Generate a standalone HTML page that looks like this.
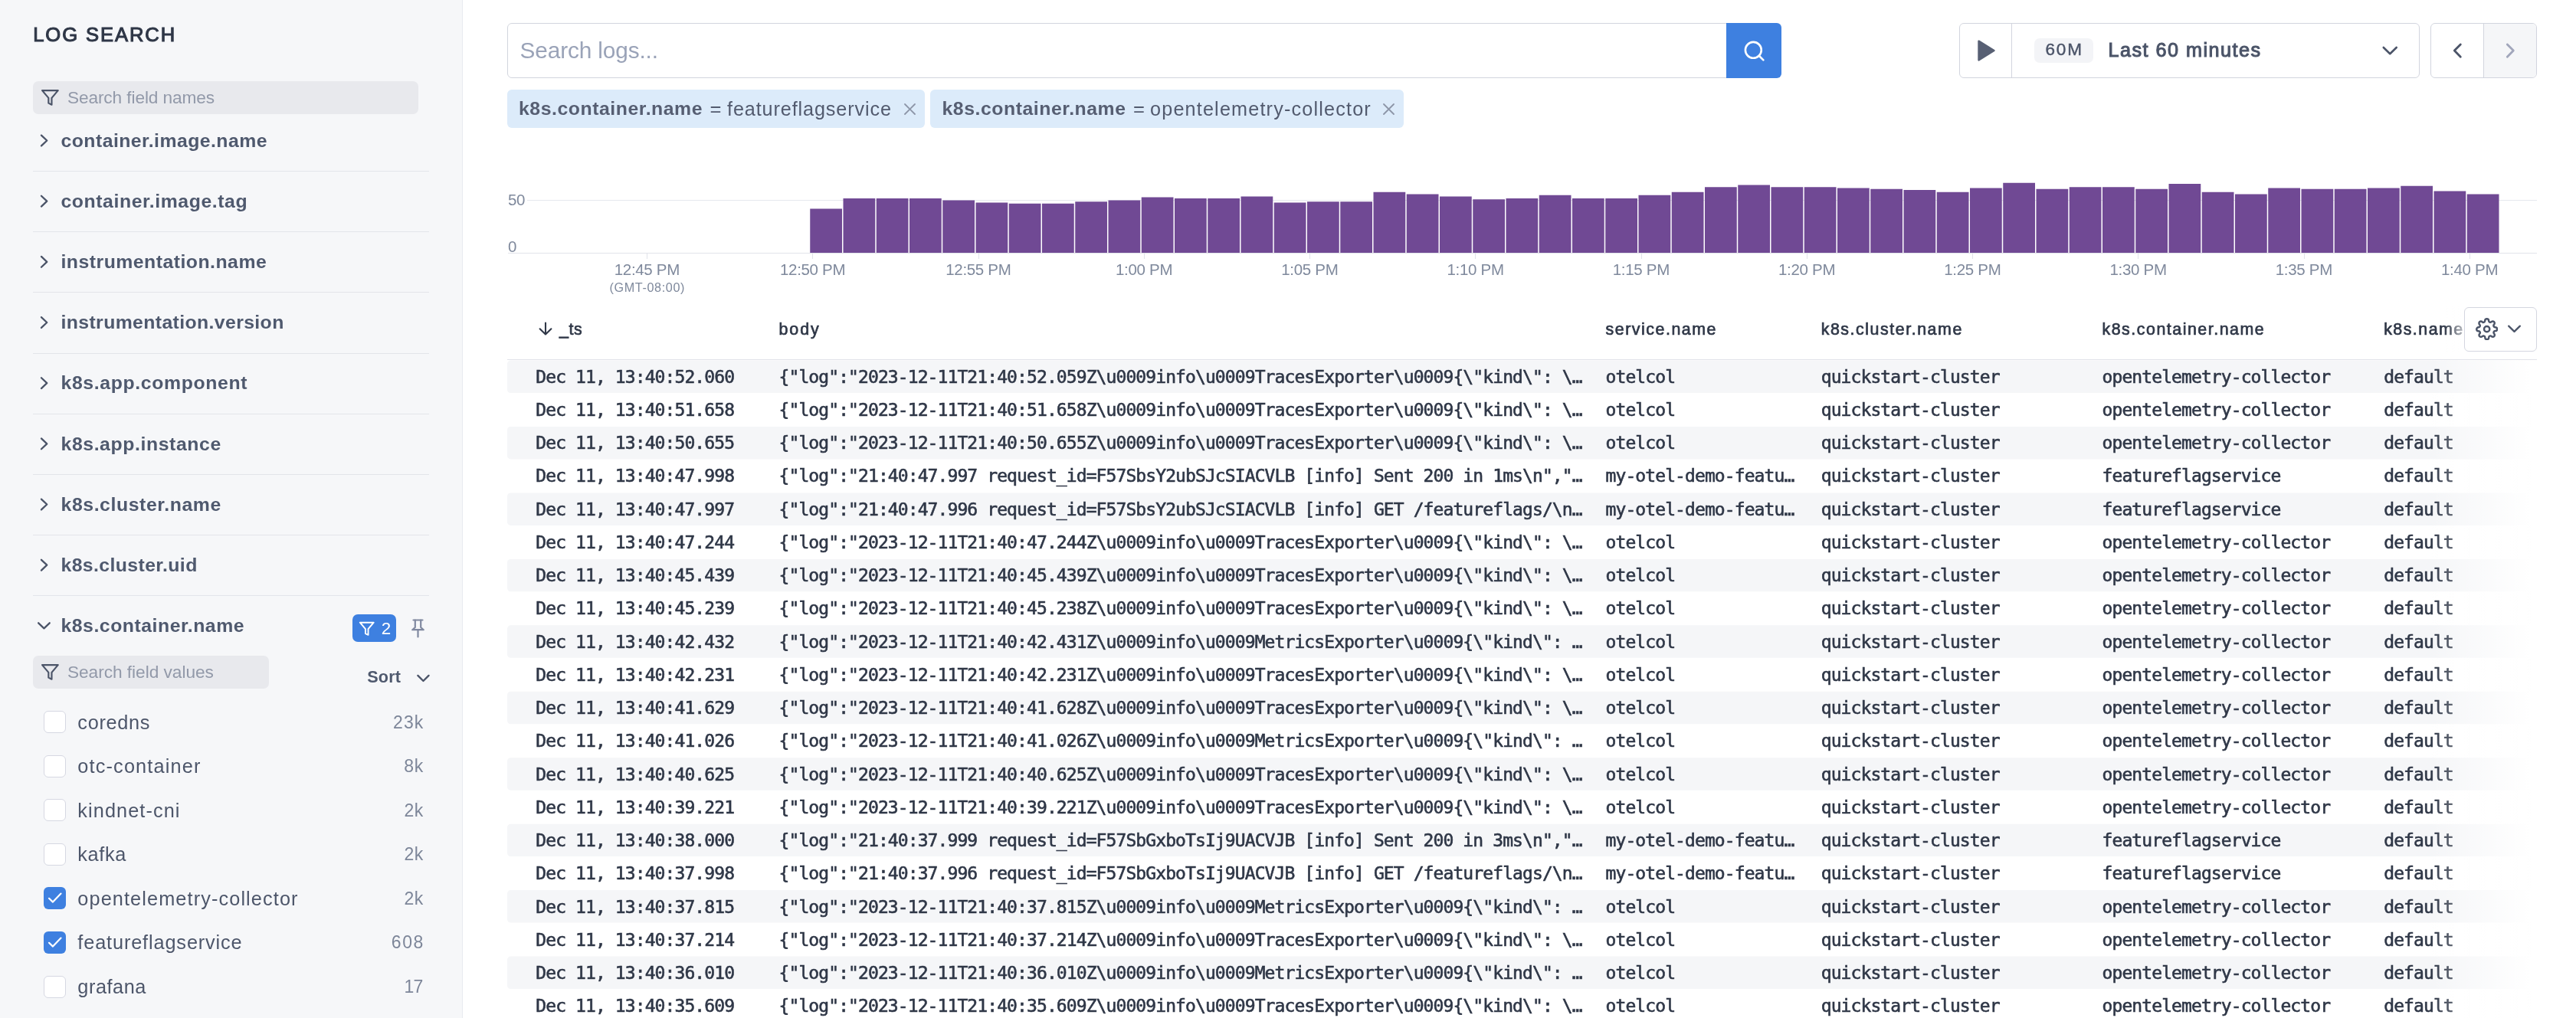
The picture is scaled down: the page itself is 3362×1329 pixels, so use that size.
<!DOCTYPE html>
<html lang="en"><head><meta charset="utf-8"><meta name="viewport" content="width=3362"><title>Log Search</title><style>html,body{margin:0;padding:0}body{width:3362px;height:1329px;position:relative;overflow:hidden;background:#fff;font-family:'Liberation Sans', sans-serif;-webkit-font-smoothing:antialiased}
#app{position:absolute;left:0;top:0;width:3362px;height:1329px;will-change:transform;transform:translateZ(0)}
.t{position:absolute;white-space:pre;display:block}.b{position:absolute;display:block}</style></head><body><div id="app">
<aside id="sidebar">
<div class="b" style="left:0px;top:0px;width:603px;height:1329px;background:#f6f7f9;"></div>
<div class="b" style="left:603px;top:0px;width:1px;height:1329px;background:#e8eaf0;"></div>
<span class="t" style="left:43.20px;top:28.92px;font:normal 25.6px 'Liberation Sans', sans-serif;line-height:33px;color:#2f3747;letter-spacing:1.908px;-webkit-text-stroke:1.08px #2f3747;">LOG SEARCH</span>
<div class="b" style="left:43px;top:106px;width:503px;height:43px;background:#e8e9ed;border-radius:7px;"></div>
<svg class="b" style="left:53.15px;top:115.1px;" width="24.8" height="24.8" viewBox="0 0 24 24" fill="none"><polygon points="22 3 2 3 10 12.46 10 19 14 21 14 12.46 22 3" stroke="#4b5468" stroke-width="2.1" stroke-linejoin="round" stroke-linecap="round"/></svg>
<span class="t" style="left:87.90px;top:111.93px;font:normal 22.7px 'Liberation Sans', sans-serif;line-height:30px;color:#9299a9;letter-spacing:-0.113px;">Search field names</span>
<span class="t" style="left:79.50px;top:167.70px;font:bold 24.8px 'Liberation Sans', sans-serif;line-height:32px;color:#4f596e;letter-spacing:0.449px;">container.image.name</span>
<svg class="b" style="left:49px;top:172px;" width="17" height="23" viewBox="0 0 17 23" fill="none"><polyline points="4.95,4.60 12.25,11.50 4.95,18.40" stroke="#4b5468" stroke-width="2.3" stroke-linecap="round" stroke-linejoin="round"/></svg>
<div class="b" style="left:43px;top:223px;width:517px;height:1px;background:#e3e5ea;"></div>
<span class="t" style="left:79.50px;top:246.87px;font:bold 24.8px 'Liberation Sans', sans-serif;line-height:32px;color:#4f596e;letter-spacing:0.567px;">container.image.tag</span>
<svg class="b" style="left:49px;top:251px;" width="17" height="23" viewBox="0 0 17 23" fill="none"><polyline points="4.95,4.77 12.25,11.67 4.95,18.57" stroke="#4b5468" stroke-width="2.3" stroke-linecap="round" stroke-linejoin="round"/></svg>
<div class="b" style="left:43px;top:302px;width:517px;height:1px;background:#e3e5ea;"></div>
<span class="t" style="left:79.50px;top:326.04px;font:bold 24.8px 'Liberation Sans', sans-serif;line-height:32px;color:#4f596e;letter-spacing:0.483px;">instrumentation.name</span>
<svg class="b" style="left:49px;top:330px;" width="17" height="23" viewBox="0 0 17 23" fill="none"><polyline points="4.95,4.94 12.25,11.84 4.95,18.74" stroke="#4b5468" stroke-width="2.3" stroke-linecap="round" stroke-linejoin="round"/></svg>
<div class="b" style="left:43px;top:381px;width:517px;height:1px;background:#e3e5ea;"></div>
<span class="t" style="left:79.50px;top:405.21px;font:bold 24.8px 'Liberation Sans', sans-serif;line-height:32px;color:#4f596e;letter-spacing:0.379px;">instrumentation.version</span>
<svg class="b" style="left:49px;top:410px;" width="17" height="22" viewBox="0 0 17 22" fill="none"><polyline points="4.95,4.11 12.25,11.01 4.95,17.91" stroke="#4b5468" stroke-width="2.3" stroke-linecap="round" stroke-linejoin="round"/></svg>
<div class="b" style="left:43px;top:461px;width:517px;height:1px;background:#e3e5ea;"></div>
<span class="t" style="left:79.50px;top:484.38px;font:bold 24.8px 'Liberation Sans', sans-serif;line-height:32px;color:#4f596e;letter-spacing:0.640px;">k8s.app.component</span>
<svg class="b" style="left:49px;top:489px;" width="17" height="23" viewBox="0 0 17 23" fill="none"><polyline points="4.95,4.28 12.25,11.18 4.95,18.08" stroke="#4b5468" stroke-width="2.3" stroke-linecap="round" stroke-linejoin="round"/></svg>
<div class="b" style="left:43px;top:540px;width:517px;height:1px;background:#e3e5ea;"></div>
<span class="t" style="left:79.50px;top:563.55px;font:bold 24.8px 'Liberation Sans', sans-serif;line-height:32px;color:#4f596e;letter-spacing:0.590px;">k8s.app.instance</span>
<svg class="b" style="left:49px;top:568px;" width="17" height="23" viewBox="0 0 17 23" fill="none"><polyline points="4.95,4.45 12.25,11.35 4.95,18.25" stroke="#4b5468" stroke-width="2.3" stroke-linecap="round" stroke-linejoin="round"/></svg>
<div class="b" style="left:43px;top:619px;width:517px;height:1px;background:#e3e5ea;"></div>
<span class="t" style="left:79.50px;top:642.72px;font:bold 24.8px 'Liberation Sans', sans-serif;line-height:32px;color:#4f596e;letter-spacing:0.587px;">k8s.cluster.name</span>
<svg class="b" style="left:49px;top:647px;" width="17" height="23" viewBox="0 0 17 23" fill="none"><polyline points="4.95,4.62 12.25,11.52 4.95,18.42" stroke="#4b5468" stroke-width="2.3" stroke-linecap="round" stroke-linejoin="round"/></svg>
<div class="b" style="left:43px;top:698px;width:517px;height:1px;background:#e3e5ea;"></div>
<span class="t" style="left:79.50px;top:721.89px;font:bold 24.8px 'Liberation Sans', sans-serif;line-height:32px;color:#4f596e;letter-spacing:0.393px;">k8s.cluster.uid</span>
<svg class="b" style="left:49px;top:726px;" width="17" height="23" viewBox="0 0 17 23" fill="none"><polyline points="4.95,4.79 12.25,11.69 4.95,18.59" stroke="#4b5468" stroke-width="2.3" stroke-linecap="round" stroke-linejoin="round"/></svg>
<div class="b" style="left:43px;top:777px;width:517px;height:1px;background:#e3e5ea;"></div>
<span class="t" style="left:79.50px;top:801.06px;font:bold 24.8px 'Liberation Sans', sans-serif;line-height:32px;color:#4f596e;letter-spacing:0.519px;">k8s.container.name</span>
<svg class="b" style="left:46px;top:809px;" width="23" height="16" viewBox="0 0 23 16" fill="none"><polyline points="4.15,4.31 11.45,11.41 18.75,4.31" stroke="#4b5468" stroke-width="2.3" stroke-linecap="round" stroke-linejoin="round"/></svg>
<div class="b" style="left:460px;top:802px;width:57px;height:36px;background:#3e80e0;border-radius:7px;"></div>
<svg class="b" style="left:468.0px;top:809.95px;" width="21.5" height="21.5" viewBox="0 0 24 24" fill="none"><polygon points="22 3 2 3 10 12.46 10 19 14 21 14 12.46 22 3" stroke="#fff" stroke-width="2.2" stroke-linejoin="round" stroke-linecap="round"/></svg>
<span class="t" style="left:497.70px;top:805.73px;font:normal 22.4px 'Liberation Sans', sans-serif;line-height:29px;color:#fff;">2</span>
<svg class="b" style="left:535px;top:806px;" width="21" height="28" viewBox="0 0 21 28" fill="none"><g stroke="#8089a0" stroke-width="2.2" stroke-linecap="round" stroke-linejoin="round"><path d="M4.5 3.5h12"/><path d="M6.8 3.5v9.5l-3.6 3.2h14.6l-3.6-3.2V3.5"/><path d="M10.5 16.5v9"/></g></svg>
<div class="b" style="left:43px;top:856px;width:308px;height:42.5px;background:#e8e9ed;border-radius:7px;"></div>
<svg class="b" style="left:53.15px;top:864.9px;" width="24.8" height="24.8" viewBox="0 0 24 24" fill="none"><polygon points="22 3 2 3 10 12.46 10 19 14 21 14 12.46 22 3" stroke="#4b5468" stroke-width="2.1" stroke-linejoin="round" stroke-linecap="round"/></svg>
<span class="t" style="left:87.90px;top:861.73px;font:normal 22.7px 'Liberation Sans', sans-serif;line-height:30px;color:#9299a9;letter-spacing:-0.039px;">Search field values</span>
<span class="t" style="left:479.20px;top:870.31px;font:bold 21.6px 'Liberation Sans', sans-serif;line-height:28px;color:#4f596e;letter-spacing:0.204px;">Sort</span>
<svg class="b" style="left:541px;top:877px;" width="23" height="17" viewBox="0 0 23 17" fill="none"><polyline points="4.35,4.85 11.45,12.05 18.55,4.85" stroke="#4b5468" stroke-width="2.3" stroke-linecap="round" stroke-linejoin="round"/></svg>
<div class="b" style="left:57px;top:928px;width:29px;height:29px;background:#fff;border-radius:6px;box-sizing:border-box;border:1px solid #d6d8e2;"></div>
<span class="t" style="left:101.30px;top:926.63px;font:normal 25.3px 'Liberation Sans', sans-serif;line-height:33px;color:#4d566a;letter-spacing:0.700px;">coredns</span>
<span class="t" style="left:513.00px;top:927.53px;font:normal 23px 'Liberation Sans', sans-serif;line-height:30px;color:#7d8699;letter-spacing:1.103px;">23k</span>
<div class="b" style="left:57px;top:986px;width:29px;height:29px;background:#fff;border-radius:6px;box-sizing:border-box;border:1px solid #d6d8e2;"></div>
<span class="t" style="left:101.30px;top:984.18px;font:normal 25.3px 'Liberation Sans', sans-serif;line-height:33px;color:#4d566a;letter-spacing:1.154px;">otc-container</span>
<span class="t" style="left:527.20px;top:985.08px;font:normal 23px 'Liberation Sans', sans-serif;line-height:30px;color:#7d8699;letter-spacing:0.803px;">8k</span>
<div class="b" style="left:57px;top:1043px;width:29px;height:29px;background:#fff;border-radius:6px;box-sizing:border-box;border:1px solid #d6d8e2;"></div>
<span class="t" style="left:101.30px;top:1041.73px;font:normal 25.3px 'Liberation Sans', sans-serif;line-height:33px;color:#4d566a;letter-spacing:1.086px;">kindnet-cni</span>
<span class="t" style="left:527.60px;top:1042.63px;font:normal 23px 'Liberation Sans', sans-serif;line-height:30px;color:#7d8699;letter-spacing:0.403px;">2k</span>
<div class="b" style="left:57px;top:1101px;width:29px;height:29px;background:#fff;border-radius:6px;box-sizing:border-box;border:1px solid #d6d8e2;"></div>
<span class="t" style="left:101.30px;top:1099.28px;font:normal 25.3px 'Liberation Sans', sans-serif;line-height:33px;color:#4d566a;letter-spacing:0.658px;">kafka</span>
<span class="t" style="left:527.60px;top:1100.18px;font:normal 23px 'Liberation Sans', sans-serif;line-height:30px;color:#7d8699;letter-spacing:0.403px;">2k</span>
<div class="b" style="left:56.7px;top:1158.3px;width:29px;height:29px;background:#3e80e0;border-radius:6px;"></div>
<svg class="b" style="left:56.7px;top:1158.3px;" width="29" height="29" viewBox="0 0 29 29" fill="none"><polyline points="7,14.8 12,19.6 22.5,8.6" stroke="#fff" stroke-width="2.2" stroke-linecap="round" stroke-linejoin="round"/></svg>
<span class="t" style="left:101.30px;top:1156.83px;font:normal 25.3px 'Liberation Sans', sans-serif;line-height:33px;color:#4d566a;letter-spacing:1.103px;">opentelemetry-collector</span>
<span class="t" style="left:527.60px;top:1157.73px;font:normal 23px 'Liberation Sans', sans-serif;line-height:30px;color:#7d8699;letter-spacing:0.403px;">2k</span>
<div class="b" style="left:56.7px;top:1215.8px;width:29px;height:29px;background:#3e80e0;border-radius:6px;"></div>
<svg class="b" style="left:56.7px;top:1215.85px;" width="29" height="29" viewBox="0 0 29 29" fill="none"><polyline points="7,14.8 12,19.6 22.5,8.6" stroke="#fff" stroke-width="2.2" stroke-linecap="round" stroke-linejoin="round"/></svg>
<span class="t" style="left:101.30px;top:1214.38px;font:normal 25.3px 'Liberation Sans', sans-serif;line-height:33px;color:#4d566a;letter-spacing:0.866px;">featureflagservice</span>
<span class="t" style="left:510.80px;top:1215.28px;font:normal 23px 'Liberation Sans', sans-serif;line-height:30px;color:#7d8699;letter-spacing:1.562px;">608</span>
<div class="b" style="left:57px;top:1274px;width:29px;height:29px;background:#fff;border-radius:6px;box-sizing:border-box;border:1px solid #d6d8e2;"></div>
<span class="t" style="left:101.30px;top:1271.93px;font:normal 25.3px 'Liberation Sans', sans-serif;line-height:33px;color:#4d566a;letter-spacing:0.548px;">grafana</span>
<span class="t" style="left:527.61px;top:1272.83px;font:normal 23px 'Liberation Sans', sans-serif;line-height:30px;color:#7d8699;letter-spacing:-0.900px;">17</span>
</aside>
<main id="main">
<header id="toolbar">
<div class="b" style="left:662px;top:30px;width:1593px;height:72px;background:#fff;border:1px solid #d2d5de;border-radius:6px 0 0 6px;box-sizing:border-box;"></div>
<span class="t" style="left:678.50px;top:46.17px;font:normal 29.8px 'Liberation Sans', sans-serif;line-height:39px;color:#9aa3b8;letter-spacing:-0.130px;">Search logs...</span>
<div class="b" style="left:2253px;top:30px;width:72px;height:72px;background:#3e80e0;border-radius:0 6px 6px 0;"></div>
<svg class="b" style="left:2273.75px;top:50.65px;" width="31.3" height="31.3" viewBox="0 0 24 24" fill="none"><circle cx="11" cy="11" r="8" stroke="#fff" stroke-width="2"/><line x1="21" y1="21" x2="16.65" y2="16.65" stroke="#fff" stroke-width="2" stroke-linecap="round"/></svg>
<div class="b" style="left:662px;top:117px;width:545px;height:50px;background:#dcebfa;border-radius:6px;"></div>
<span class="t" style="left:677.00px;top:126.30px;font:bold 24.8px 'Liberation Sans', sans-serif;line-height:32px;color:#565e72;letter-spacing:0.549px;">k8s.container.name</span>
<span class="t" style="left:926.50px;top:125.62px;font:normal 25.6px 'Liberation Sans', sans-serif;line-height:33px;color:#525a6e;">=</span>
<span class="t" style="left:949.00px;top:125.76px;font:normal 25.2px 'Liberation Sans', sans-serif;line-height:33px;color:#525a6e;letter-spacing:0.893px;">featureflagservice</span>
<svg class="b" style="left:1179.8px;top:134.5px;" width="15" height="15" viewBox="0 0 15 15" fill="none"><path d="M1 1L14 14M14 1L1 14" stroke="#8d96a8" stroke-width="1.8" stroke-linecap="round"/></svg>
<div class="b" style="left:1214px;top:117px;width:618px;height:50px;background:#dcebfa;border-radius:6px;"></div>
<span class="t" style="left:1229.50px;top:126.30px;font:bold 24.8px 'Liberation Sans', sans-serif;line-height:32px;color:#565e72;letter-spacing:0.549px;">k8s.container.name</span>
<span class="t" style="left:1479.00px;top:125.62px;font:normal 25.6px 'Liberation Sans', sans-serif;line-height:33px;color:#525a6e;">=</span>
<span class="t" style="left:1501.00px;top:125.76px;font:normal 25.2px 'Liberation Sans', sans-serif;line-height:33px;color:#525a6e;letter-spacing:1.180px;">opentelemetry-collector</span>
<svg class="b" style="left:1805.3px;top:134.5px;" width="15" height="15" viewBox="0 0 15 15" fill="none"><path d="M1 1L14 14M14 1L1 14" stroke="#8d96a8" stroke-width="1.8" stroke-linecap="round"/></svg>
<div class="b" style="left:2557px;top:30px;width:601px;height:72px;background:#fff;border:1px solid #d2d5de;border-radius:6px;box-sizing:border-box;"></div>
<div class="b" style="left:2625px;top:31px;width:1px;height:70px;background:#d2d5de;"></div>
<svg class="b" style="left:2579px;top:50px;" width="28" height="32" viewBox="0 0 28 32" fill="none"><path d="M3.5 3.6L23.5 16L3.5 28.4Z" fill="#586074" stroke="#586074" stroke-width="2.4" stroke-linejoin="round"/></svg>
<div class="b" style="left:2655px;top:50px;width:77px;height:32px;background:#f3f4f7;border-radius:7px;"></div>
<span class="t" style="left:2669.50px;top:50.20px;font:normal 22.5px 'Liberation Sans', sans-serif;line-height:29px;color:#4b5468;letter-spacing:1.859px;-webkit-text-stroke:0.45px #4b5468;">60M</span>
<span class="t" style="left:2751.50px;top:49.36px;font:normal 25.2px 'Liberation Sans', sans-serif;line-height:33px;color:#4b5468;letter-spacing:1.477px;-webkit-text-stroke:1.06px #4b5468;">Last 60 minutes</span>
<svg class="b" style="left:3106px;top:57px;" width="26" height="18" viewBox="0 0 26 18" fill="none"><polyline points="4.80,5.00 13.25,13.20 21.70,5.00" stroke="#4b5468" stroke-width="2.6" stroke-linecap="round" stroke-linejoin="round"/></svg>
<div class="b" style="left:3172px;top:30px;width:139px;height:72px;background:#fff;border:1px solid #d2d5de;border-radius:6px;box-sizing:border-box;overflow:hidden;"><div style="position:absolute;left:68px;top:0;width:70px;height:70px;background:#f5f6f8;border-left:1px solid #d2d5de"></div></div>
<svg class="b" style="left:3199px;top:53px;" width="17" height="26" viewBox="0 0 17 26" fill="none"><polyline points="12.30,5.00 4.30,13.10 12.30,21.20" stroke="#4b5468" stroke-width="2.8" stroke-linecap="round" stroke-linejoin="round"/></svg>
<svg class="b" style="left:3268px;top:53px;" width="17" height="26" viewBox="0 0 17 26" fill="none"><polyline points="4.30,5.00 12.30,13.10 4.30,21.20" stroke="#a1a6bb" stroke-width="2.8" stroke-linecap="round" stroke-linejoin="round"/></svg>
</header>
<section id="histogram">
<div class="b" style="left:688px;top:261px;width:2623px;height:1px;background:#e6e8ee;"></div>
<div class="b" style="left:663px;top:330px;width:2648px;height:1px;background:#e1e3ea;"></div>
<span class="t" style="left:663.00px;top:247.39px;font:normal 20.5px 'Liberation Sans', sans-serif;line-height:27px;color:#7f899c;letter-spacing:-0.312px;">50</span>
<span class="t" style="left:663.00px;top:308.39px;font:normal 20.5px 'Liberation Sans', sans-serif;line-height:27px;color:#7f899c;">0</span>
<svg class="b" style="left:0px;top:0px;" width="3362" height="340" viewBox="0 0 3362 340" fill="none"><g fill="#704994"><rect x="1057.25" y="272.50" width="41.75" height="57.50"/><rect x="1100.50" y="259.00" width="41.75" height="71.00"/><rect x="1143.75" y="259.00" width="41.75" height="71.00"/><rect x="1187.00" y="259.00" width="41.75" height="71.00"/><rect x="1230.25" y="261.50" width="41.75" height="68.50"/><rect x="1273.50" y="264.50" width="41.75" height="65.50"/><rect x="1316.75" y="265.75" width="41.75" height="64.25"/><rect x="1360.00" y="265.75" width="41.75" height="64.25"/><rect x="1403.25" y="263.25" width="41.75" height="66.75"/><rect x="1446.50" y="261.50" width="41.75" height="68.50"/><rect x="1489.75" y="257.50" width="41.75" height="72.50"/><rect x="1533.00" y="259.00" width="41.75" height="71.00"/><rect x="1576.25" y="259.00" width="41.75" height="71.00"/><rect x="1619.50" y="256.50" width="41.75" height="73.50"/><rect x="1662.75" y="264.50" width="41.75" height="65.50"/><rect x="1706.00" y="263.25" width="41.75" height="66.75"/><rect x="1749.25" y="263.25" width="41.75" height="66.75"/><rect x="1792.50" y="250.75" width="41.75" height="79.25"/><rect x="1835.75" y="253.50" width="41.75" height="76.50"/><rect x="1879.00" y="256.50" width="41.75" height="73.50"/><rect x="1922.25" y="260.25" width="41.75" height="69.75"/><rect x="1965.50" y="259.00" width="41.75" height="71.00"/><rect x="2008.75" y="254.75" width="41.75" height="75.25"/><rect x="2052.00" y="259.00" width="41.75" height="71.00"/><rect x="2095.25" y="259.00" width="41.75" height="71.00"/><rect x="2138.50" y="254.75" width="41.75" height="75.25"/><rect x="2181.75" y="250.75" width="41.75" height="79.25"/><rect x="2225.00" y="244.25" width="41.75" height="85.75"/><rect x="2268.25" y="241.50" width="41.75" height="88.50"/><rect x="2311.50" y="244.25" width="41.75" height="85.75"/><rect x="2354.75" y="244.25" width="41.75" height="85.75"/><rect x="2398.00" y="245.50" width="41.75" height="84.50"/><rect x="2441.25" y="246.75" width="41.75" height="83.25"/><rect x="2484.50" y="248.00" width="41.75" height="82.00"/><rect x="2527.75" y="250.75" width="41.75" height="79.25"/><rect x="2571.00" y="245.50" width="41.75" height="84.50"/><rect x="2614.25" y="238.75" width="41.75" height="91.25"/><rect x="2657.50" y="246.75" width="41.75" height="83.25"/><rect x="2700.75" y="244.25" width="41.75" height="85.75"/><rect x="2744.00" y="244.25" width="41.75" height="85.75"/><rect x="2787.25" y="246.75" width="41.75" height="83.25"/><rect x="2830.50" y="240.00" width="41.75" height="90.00"/><rect x="2873.75" y="250.75" width="41.75" height="79.25"/><rect x="2917.00" y="253.50" width="41.75" height="76.50"/><rect x="2960.25" y="245.50" width="41.75" height="84.50"/><rect x="3003.50" y="246.75" width="41.75" height="83.25"/><rect x="3046.75" y="246.75" width="41.75" height="83.25"/><rect x="3090.00" y="245.50" width="41.75" height="84.50"/><rect x="3133.25" y="242.75" width="41.75" height="87.25"/><rect x="3176.50" y="249.50" width="41.75" height="80.50"/><rect x="3219.75" y="253.50" width="41.75" height="76.50"/></g></svg>
<div class="b" style="left:844px;top:331px;width:1px;height:7px;background:#e1e3ea;"></div>
<span class="t" style="left:801.75px;top:338.39px;font:normal 20.5px 'Liberation Sans', sans-serif;line-height:27px;color:#7f899c;letter-spacing:-0.321px;">12:45 PM</span>
<div class="b" style="left:1060px;top:331px;width:1px;height:7px;background:#e1e3ea;"></div>
<span class="t" style="left:1018.00px;top:338.39px;font:normal 20.5px 'Liberation Sans', sans-serif;line-height:27px;color:#7f899c;letter-spacing:-0.321px;">12:50 PM</span>
<div class="b" style="left:1277px;top:331px;width:1px;height:7px;background:#e1e3ea;"></div>
<span class="t" style="left:1234.25px;top:338.39px;font:normal 20.5px 'Liberation Sans', sans-serif;line-height:27px;color:#7f899c;letter-spacing:-0.321px;">12:55 PM</span>
<div class="b" style="left:1493px;top:331px;width:1px;height:7px;background:#e1e3ea;"></div>
<span class="t" style="left:1456.00px;top:338.39px;font:normal 20.5px 'Liberation Sans', sans-serif;line-height:27px;color:#7f899c;letter-spacing:-0.310px;">1:00 PM</span>
<div class="b" style="left:1709px;top:331px;width:1px;height:7px;background:#e1e3ea;"></div>
<span class="t" style="left:1672.25px;top:338.39px;font:normal 20.5px 'Liberation Sans', sans-serif;line-height:27px;color:#7f899c;letter-spacing:-0.310px;">1:05 PM</span>
<div class="b" style="left:1925px;top:331px;width:1px;height:7px;background:#e1e3ea;"></div>
<span class="t" style="left:1888.50px;top:338.39px;font:normal 20.5px 'Liberation Sans', sans-serif;line-height:27px;color:#7f899c;letter-spacing:-0.310px;">1:10 PM</span>
<div class="b" style="left:2142px;top:331px;width:1px;height:7px;background:#e1e3ea;"></div>
<span class="t" style="left:2104.75px;top:338.39px;font:normal 20.5px 'Liberation Sans', sans-serif;line-height:27px;color:#7f899c;letter-spacing:-0.310px;">1:15 PM</span>
<div class="b" style="left:2358px;top:331px;width:1px;height:7px;background:#e1e3ea;"></div>
<span class="t" style="left:2321.00px;top:338.39px;font:normal 20.5px 'Liberation Sans', sans-serif;line-height:27px;color:#7f899c;letter-spacing:-0.310px;">1:20 PM</span>
<div class="b" style="left:2574px;top:331px;width:1px;height:7px;background:#e1e3ea;"></div>
<span class="t" style="left:2537.25px;top:338.39px;font:normal 20.5px 'Liberation Sans', sans-serif;line-height:27px;color:#7f899c;letter-spacing:-0.310px;">1:25 PM</span>
<div class="b" style="left:2790px;top:331px;width:1px;height:7px;background:#e1e3ea;"></div>
<span class="t" style="left:2753.50px;top:338.39px;font:normal 20.5px 'Liberation Sans', sans-serif;line-height:27px;color:#7f899c;letter-spacing:-0.310px;">1:30 PM</span>
<div class="b" style="left:3007px;top:331px;width:1px;height:7px;background:#e1e3ea;"></div>
<span class="t" style="left:2969.75px;top:338.39px;font:normal 20.5px 'Liberation Sans', sans-serif;line-height:27px;color:#7f899c;letter-spacing:-0.310px;">1:35 PM</span>
<div class="b" style="left:3223px;top:331px;width:1px;height:7px;background:#e1e3ea;"></div>
<span class="t" style="left:3186.00px;top:338.39px;font:normal 20.5px 'Liberation Sans', sans-serif;line-height:27px;color:#7f899c;letter-spacing:-0.310px;">1:40 PM</span>
<span class="t" style="left:795.50px;top:365.18px;font:normal 16.2px 'Liberation Sans', sans-serif;line-height:21px;color:#7f899c;letter-spacing:0.625px;">(GMT-08:00)</span>
</section>
<section id="log-table">
<svg class="b" style="left:700.5px;top:418.5px;" width="22" height="20" viewBox="0 0 22 20" fill="none"><path d="M11 2.5v15M3.6 10.3L11 17.6l7.4-7.3" stroke="#2f3747" stroke-width="2.1" stroke-linecap="round" stroke-linejoin="round"/></svg>
<span class="t" style="left:730.00px;top:415.88px;font:normal 21.4px 'Liberation Sans', sans-serif;line-height:28px;color:#2f3747;letter-spacing:0.527px;-webkit-text-stroke:0.7px #2f3747;">_ts</span>
<span class="t" style="left:1016.60px;top:415.88px;font:normal 21.4px 'Liberation Sans', sans-serif;line-height:28px;color:#2f3747;letter-spacing:1.870px;-webkit-text-stroke:0.7px #2f3747;">body</span>
<span class="t" style="left:2095.50px;top:415.88px;font:normal 21.4px 'Liberation Sans', sans-serif;line-height:28px;color:#2f3747;letter-spacing:1.526px;-webkit-text-stroke:0.7px #2f3747;">service.name</span>
<span class="t" style="left:2376.70px;top:415.88px;font:normal 21.4px 'Liberation Sans', sans-serif;line-height:28px;color:#2f3747;letter-spacing:1.539px;-webkit-text-stroke:0.7px #2f3747;">k8s.cluster.name</span>
<span class="t" style="left:2743.50px;top:415.88px;font:normal 21.4px 'Liberation Sans', sans-serif;line-height:28px;color:#2f3747;letter-spacing:1.512px;-webkit-text-stroke:0.7px #2f3747;">k8s.container.name</span>
<span class="t" style="left:3111.20px;top:415.88px;font:normal 21.4px 'Liberation Sans', sans-serif;line-height:28px;color:#2f3747;letter-spacing:1.464px;-webkit-text-stroke:0.7px #2f3747;">k8s.namespace.name</span>
<div class="b" style="left:3190px;top:400px;width:27px;height:60px;background:linear-gradient(90deg,rgba(255,255,255,0),rgba(255,255,255,.7));"></div>
<div class="b" style="left:3216px;top:400px;width:146px;height:62px;background:#fff;"></div>
<div class="b" style="left:3216px;top:401px;width:95px;height:58px;background:#fff;border:1px solid #d4d6e0;border-radius:6px;box-sizing:border-box;"></div>
<svg class="b" style="left:3230.9px;top:414.8px;" width="29.3" height="29.3" viewBox="0 0 24 24" fill="none"><g stroke="#4b5468" stroke-width="2" stroke-linecap="round" stroke-linejoin="round"><circle cx="12" cy="12" r="3"/><path d="M19.4 15a1.65 1.65 0 0 0 .33 1.82l.06.06a2 2 0 0 1 0 2.83 2 2 0 0 1-2.83 0l-.06-.06a1.65 1.65 0 0 0-1.82-.33 1.65 1.65 0 0 0-1 1.51V21a2 2 0 0 1-2 2 2 2 0 0 1-2-2v-.09A1.65 1.65 0 0 0 9 19.4a1.65 1.65 0 0 0-1.82.33l-.06.06a2 2 0 0 1-2.83 0 2 2 0 0 1 0-2.83l.06-.06a1.65 1.65 0 0 0 .33-1.82 1.65 1.65 0 0 0-1.51-1H3a2 2 0 0 1-2-2 2 2 0 0 1 2-2h.09A1.65 1.65 0 0 0 4.6 9a1.65 1.65 0 0 0-.33-1.82l-.06-.06a2 2 0 0 1 0-2.83 2 2 0 0 1 2.83 0l.06.06a1.65 1.65 0 0 0 1.82.33H9a1.65 1.65 0 0 0 1-1.51V3a2 2 0 0 1 2-2 2 2 0 0 1 2 2v.09a1.65 1.65 0 0 0 1 1.51 1.65 1.65 0 0 0 1.82-.33l.06-.06a2 2 0 0 1 2.83 0 2 2 0 0 1 0 2.83l-.06.06a1.65 1.65 0 0 0-.33 1.82V9a1.65 1.65 0 0 0 1.51 1H21a2 2 0 0 1 2 2 2 2 0 0 1-2 2h-.09a1.65 1.65 0 0 0-1.51 1z"/></g></svg>
<svg class="b" style="left:3270px;top:421px;" width="23" height="16" viewBox="0 0 23 16" fill="none"><polyline points="4.15,4.65 11.50,11.85 18.85,4.65" stroke="#4b5468" stroke-width="2.3" stroke-linecap="round" stroke-linejoin="round"/></svg>
<div class="b" style="left:662px;top:469px;width:2649px;height:1px;background:#e1e3ea;"></div>
<svg class="b" style="left:0px;top:0px;" width="3362" height="1329" viewBox="0 0 3362 1329" fill="none"><g fill="#f5f6f8"><rect x="662" y="470.60" width="2720" height="42.4" rx="4.5"/><rect x="662" y="557.04" width="2720" height="42.4" rx="4.5"/><rect x="662" y="643.48" width="2720" height="42.4" rx="4.5"/><rect x="662" y="729.92" width="2720" height="42.4" rx="4.5"/><rect x="662" y="816.36" width="2720" height="42.4" rx="4.5"/><rect x="662" y="902.80" width="2720" height="42.4" rx="4.5"/><rect x="662" y="989.24" width="2720" height="42.4" rx="4.5"/><rect x="662" y="1075.68" width="2720" height="42.4" rx="4.5"/><rect x="662" y="1162.12" width="2720" height="42.4" rx="4.5"/><rect x="662" y="1248.56" width="2720" height="42.4" rx="4.5"/></g></svg>
<span class="t" style="left:699.30px;top:476.74px;font:normal 23px 'DejaVu Sans Mono', 'Liberation Mono', monospace;line-height:30px;color:#2f3747;letter-spacing:-0.907px;-webkit-text-stroke:0.6px #2f3747;">Dec 11, 13:40:52.060</span>
<span class="t" style="left:1016.50px;top:476.74px;font:normal 23px 'DejaVu Sans Mono', 'Liberation Mono', monospace;line-height:30px;color:#2f3747;letter-spacing:-0.907px;-webkit-text-stroke:0.6px #2f3747;">{"log":"2023-12-11T21:40:52.059Z\u0009info\u0009TracesExporter\u0009{\"kind\": \…</span>
<span class="t" style="left:2095.50px;top:476.74px;font:normal 23px 'DejaVu Sans Mono', 'Liberation Mono', monospace;line-height:30px;color:#2f3747;letter-spacing:-0.907px;-webkit-text-stroke:0.6px #2f3747;">otelcol</span>
<span class="t" style="left:2376.70px;top:476.74px;font:normal 23px 'DejaVu Sans Mono', 'Liberation Mono', monospace;line-height:30px;color:#2f3747;letter-spacing:-0.907px;-webkit-text-stroke:0.6px #2f3747;">quickstart-cluster</span>
<span class="t" style="left:2743.50px;top:476.74px;font:normal 23px 'DejaVu Sans Mono', 'Liberation Mono', monospace;line-height:30px;color:#2f3747;letter-spacing:-0.907px;-webkit-text-stroke:0.6px #2f3747;">opentelemetry-collector</span>
<span class="t" style="left:3111.20px;top:476.74px;font:normal 23px 'DejaVu Sans Mono', 'Liberation Mono', monospace;line-height:30px;color:#2f3747;letter-spacing:-0.907px;-webkit-text-stroke:0.6px #2f3747;">default</span>
<span class="t" style="left:699.30px;top:519.98px;font:normal 23px 'DejaVu Sans Mono', 'Liberation Mono', monospace;line-height:30px;color:#2f3747;letter-spacing:-0.907px;-webkit-text-stroke:0.6px #2f3747;">Dec 11, 13:40:51.658</span>
<span class="t" style="left:1016.50px;top:519.98px;font:normal 23px 'DejaVu Sans Mono', 'Liberation Mono', monospace;line-height:30px;color:#2f3747;letter-spacing:-0.907px;-webkit-text-stroke:0.6px #2f3747;">{"log":"2023-12-11T21:40:51.658Z\u0009info\u0009TracesExporter\u0009{\"kind\": \…</span>
<span class="t" style="left:2095.50px;top:519.98px;font:normal 23px 'DejaVu Sans Mono', 'Liberation Mono', monospace;line-height:30px;color:#2f3747;letter-spacing:-0.907px;-webkit-text-stroke:0.6px #2f3747;">otelcol</span>
<span class="t" style="left:2376.70px;top:519.98px;font:normal 23px 'DejaVu Sans Mono', 'Liberation Mono', monospace;line-height:30px;color:#2f3747;letter-spacing:-0.907px;-webkit-text-stroke:0.6px #2f3747;">quickstart-cluster</span>
<span class="t" style="left:2743.50px;top:519.98px;font:normal 23px 'DejaVu Sans Mono', 'Liberation Mono', monospace;line-height:30px;color:#2f3747;letter-spacing:-0.907px;-webkit-text-stroke:0.6px #2f3747;">opentelemetry-collector</span>
<span class="t" style="left:3111.20px;top:519.98px;font:normal 23px 'DejaVu Sans Mono', 'Liberation Mono', monospace;line-height:30px;color:#2f3747;letter-spacing:-0.907px;-webkit-text-stroke:0.6px #2f3747;">default</span>
<span class="t" style="left:699.30px;top:563.22px;font:normal 23px 'DejaVu Sans Mono', 'Liberation Mono', monospace;line-height:30px;color:#2f3747;letter-spacing:-0.907px;-webkit-text-stroke:0.6px #2f3747;">Dec 11, 13:40:50.655</span>
<span class="t" style="left:1016.50px;top:563.22px;font:normal 23px 'DejaVu Sans Mono', 'Liberation Mono', monospace;line-height:30px;color:#2f3747;letter-spacing:-0.907px;-webkit-text-stroke:0.6px #2f3747;">{"log":"2023-12-11T21:40:50.655Z\u0009info\u0009TracesExporter\u0009{\"kind\": \…</span>
<span class="t" style="left:2095.50px;top:563.22px;font:normal 23px 'DejaVu Sans Mono', 'Liberation Mono', monospace;line-height:30px;color:#2f3747;letter-spacing:-0.907px;-webkit-text-stroke:0.6px #2f3747;">otelcol</span>
<span class="t" style="left:2376.70px;top:563.22px;font:normal 23px 'DejaVu Sans Mono', 'Liberation Mono', monospace;line-height:30px;color:#2f3747;letter-spacing:-0.907px;-webkit-text-stroke:0.6px #2f3747;">quickstart-cluster</span>
<span class="t" style="left:2743.50px;top:563.22px;font:normal 23px 'DejaVu Sans Mono', 'Liberation Mono', monospace;line-height:30px;color:#2f3747;letter-spacing:-0.907px;-webkit-text-stroke:0.6px #2f3747;">opentelemetry-collector</span>
<span class="t" style="left:3111.20px;top:563.22px;font:normal 23px 'DejaVu Sans Mono', 'Liberation Mono', monospace;line-height:30px;color:#2f3747;letter-spacing:-0.907px;-webkit-text-stroke:0.6px #2f3747;">default</span>
<span class="t" style="left:699.30px;top:606.46px;font:normal 23px 'DejaVu Sans Mono', 'Liberation Mono', monospace;line-height:30px;color:#2f3747;letter-spacing:-0.907px;-webkit-text-stroke:0.6px #2f3747;">Dec 11, 13:40:47.998</span>
<span class="t" style="left:1016.50px;top:606.46px;font:normal 23px 'DejaVu Sans Mono', 'Liberation Mono', monospace;line-height:30px;color:#2f3747;letter-spacing:-0.907px;-webkit-text-stroke:0.6px #2f3747;">{"log":"21:40:47.997 request_id=F57SbsY2ubSJcSIACVLB [info] Sent 200 in 1ms\n","…</span>
<span class="t" style="left:2095.50px;top:606.46px;font:normal 23px 'DejaVu Sans Mono', 'Liberation Mono', monospace;line-height:30px;color:#2f3747;letter-spacing:-0.907px;-webkit-text-stroke:0.6px #2f3747;">my-otel-demo-featu…</span>
<span class="t" style="left:2376.70px;top:606.46px;font:normal 23px 'DejaVu Sans Mono', 'Liberation Mono', monospace;line-height:30px;color:#2f3747;letter-spacing:-0.907px;-webkit-text-stroke:0.6px #2f3747;">quickstart-cluster</span>
<span class="t" style="left:2743.50px;top:606.46px;font:normal 23px 'DejaVu Sans Mono', 'Liberation Mono', monospace;line-height:30px;color:#2f3747;letter-spacing:-0.907px;-webkit-text-stroke:0.6px #2f3747;">featureflagservice</span>
<span class="t" style="left:3111.20px;top:606.46px;font:normal 23px 'DejaVu Sans Mono', 'Liberation Mono', monospace;line-height:30px;color:#2f3747;letter-spacing:-0.907px;-webkit-text-stroke:0.6px #2f3747;">default</span>
<span class="t" style="left:699.30px;top:649.70px;font:normal 23px 'DejaVu Sans Mono', 'Liberation Mono', monospace;line-height:30px;color:#2f3747;letter-spacing:-0.907px;-webkit-text-stroke:0.6px #2f3747;">Dec 11, 13:40:47.997</span>
<span class="t" style="left:1016.50px;top:649.70px;font:normal 23px 'DejaVu Sans Mono', 'Liberation Mono', monospace;line-height:30px;color:#2f3747;letter-spacing:-0.907px;-webkit-text-stroke:0.6px #2f3747;">{"log":"21:40:47.996 request_id=F57SbsY2ubSJcSIACVLB [info] GET /featureflags/\n…</span>
<span class="t" style="left:2095.50px;top:649.70px;font:normal 23px 'DejaVu Sans Mono', 'Liberation Mono', monospace;line-height:30px;color:#2f3747;letter-spacing:-0.907px;-webkit-text-stroke:0.6px #2f3747;">my-otel-demo-featu…</span>
<span class="t" style="left:2376.70px;top:649.70px;font:normal 23px 'DejaVu Sans Mono', 'Liberation Mono', monospace;line-height:30px;color:#2f3747;letter-spacing:-0.907px;-webkit-text-stroke:0.6px #2f3747;">quickstart-cluster</span>
<span class="t" style="left:2743.50px;top:649.70px;font:normal 23px 'DejaVu Sans Mono', 'Liberation Mono', monospace;line-height:30px;color:#2f3747;letter-spacing:-0.907px;-webkit-text-stroke:0.6px #2f3747;">featureflagservice</span>
<span class="t" style="left:3111.20px;top:649.70px;font:normal 23px 'DejaVu Sans Mono', 'Liberation Mono', monospace;line-height:30px;color:#2f3747;letter-spacing:-0.907px;-webkit-text-stroke:0.6px #2f3747;">default</span>
<span class="t" style="left:699.30px;top:692.94px;font:normal 23px 'DejaVu Sans Mono', 'Liberation Mono', monospace;line-height:30px;color:#2f3747;letter-spacing:-0.907px;-webkit-text-stroke:0.6px #2f3747;">Dec 11, 13:40:47.244</span>
<span class="t" style="left:1016.50px;top:692.94px;font:normal 23px 'DejaVu Sans Mono', 'Liberation Mono', monospace;line-height:30px;color:#2f3747;letter-spacing:-0.907px;-webkit-text-stroke:0.6px #2f3747;">{"log":"2023-12-11T21:40:47.244Z\u0009info\u0009TracesExporter\u0009{\"kind\": \…</span>
<span class="t" style="left:2095.50px;top:692.94px;font:normal 23px 'DejaVu Sans Mono', 'Liberation Mono', monospace;line-height:30px;color:#2f3747;letter-spacing:-0.907px;-webkit-text-stroke:0.6px #2f3747;">otelcol</span>
<span class="t" style="left:2376.70px;top:692.94px;font:normal 23px 'DejaVu Sans Mono', 'Liberation Mono', monospace;line-height:30px;color:#2f3747;letter-spacing:-0.907px;-webkit-text-stroke:0.6px #2f3747;">quickstart-cluster</span>
<span class="t" style="left:2743.50px;top:692.94px;font:normal 23px 'DejaVu Sans Mono', 'Liberation Mono', monospace;line-height:30px;color:#2f3747;letter-spacing:-0.907px;-webkit-text-stroke:0.6px #2f3747;">opentelemetry-collector</span>
<span class="t" style="left:3111.20px;top:692.94px;font:normal 23px 'DejaVu Sans Mono', 'Liberation Mono', monospace;line-height:30px;color:#2f3747;letter-spacing:-0.907px;-webkit-text-stroke:0.6px #2f3747;">default</span>
<span class="t" style="left:699.30px;top:736.18px;font:normal 23px 'DejaVu Sans Mono', 'Liberation Mono', monospace;line-height:30px;color:#2f3747;letter-spacing:-0.907px;-webkit-text-stroke:0.6px #2f3747;">Dec 11, 13:40:45.439</span>
<span class="t" style="left:1016.50px;top:736.18px;font:normal 23px 'DejaVu Sans Mono', 'Liberation Mono', monospace;line-height:30px;color:#2f3747;letter-spacing:-0.907px;-webkit-text-stroke:0.6px #2f3747;">{"log":"2023-12-11T21:40:45.439Z\u0009info\u0009TracesExporter\u0009{\"kind\": \…</span>
<span class="t" style="left:2095.50px;top:736.18px;font:normal 23px 'DejaVu Sans Mono', 'Liberation Mono', monospace;line-height:30px;color:#2f3747;letter-spacing:-0.907px;-webkit-text-stroke:0.6px #2f3747;">otelcol</span>
<span class="t" style="left:2376.70px;top:736.18px;font:normal 23px 'DejaVu Sans Mono', 'Liberation Mono', monospace;line-height:30px;color:#2f3747;letter-spacing:-0.907px;-webkit-text-stroke:0.6px #2f3747;">quickstart-cluster</span>
<span class="t" style="left:2743.50px;top:736.18px;font:normal 23px 'DejaVu Sans Mono', 'Liberation Mono', monospace;line-height:30px;color:#2f3747;letter-spacing:-0.907px;-webkit-text-stroke:0.6px #2f3747;">opentelemetry-collector</span>
<span class="t" style="left:3111.20px;top:736.18px;font:normal 23px 'DejaVu Sans Mono', 'Liberation Mono', monospace;line-height:30px;color:#2f3747;letter-spacing:-0.907px;-webkit-text-stroke:0.6px #2f3747;">default</span>
<span class="t" style="left:699.30px;top:779.42px;font:normal 23px 'DejaVu Sans Mono', 'Liberation Mono', monospace;line-height:30px;color:#2f3747;letter-spacing:-0.907px;-webkit-text-stroke:0.6px #2f3747;">Dec 11, 13:40:45.239</span>
<span class="t" style="left:1016.50px;top:779.42px;font:normal 23px 'DejaVu Sans Mono', 'Liberation Mono', monospace;line-height:30px;color:#2f3747;letter-spacing:-0.907px;-webkit-text-stroke:0.6px #2f3747;">{"log":"2023-12-11T21:40:45.238Z\u0009info\u0009TracesExporter\u0009{\"kind\": \…</span>
<span class="t" style="left:2095.50px;top:779.42px;font:normal 23px 'DejaVu Sans Mono', 'Liberation Mono', monospace;line-height:30px;color:#2f3747;letter-spacing:-0.907px;-webkit-text-stroke:0.6px #2f3747;">otelcol</span>
<span class="t" style="left:2376.70px;top:779.42px;font:normal 23px 'DejaVu Sans Mono', 'Liberation Mono', monospace;line-height:30px;color:#2f3747;letter-spacing:-0.907px;-webkit-text-stroke:0.6px #2f3747;">quickstart-cluster</span>
<span class="t" style="left:2743.50px;top:779.42px;font:normal 23px 'DejaVu Sans Mono', 'Liberation Mono', monospace;line-height:30px;color:#2f3747;letter-spacing:-0.907px;-webkit-text-stroke:0.6px #2f3747;">opentelemetry-collector</span>
<span class="t" style="left:3111.20px;top:779.42px;font:normal 23px 'DejaVu Sans Mono', 'Liberation Mono', monospace;line-height:30px;color:#2f3747;letter-spacing:-0.907px;-webkit-text-stroke:0.6px #2f3747;">default</span>
<span class="t" style="left:699.30px;top:822.66px;font:normal 23px 'DejaVu Sans Mono', 'Liberation Mono', monospace;line-height:30px;color:#2f3747;letter-spacing:-0.907px;-webkit-text-stroke:0.6px #2f3747;">Dec 11, 13:40:42.432</span>
<span class="t" style="left:1016.50px;top:822.66px;font:normal 23px 'DejaVu Sans Mono', 'Liberation Mono', monospace;line-height:30px;color:#2f3747;letter-spacing:-0.907px;-webkit-text-stroke:0.6px #2f3747;">{"log":"2023-12-11T21:40:42.431Z\u0009info\u0009MetricsExporter\u0009{\"kind\": …</span>
<span class="t" style="left:2095.50px;top:822.66px;font:normal 23px 'DejaVu Sans Mono', 'Liberation Mono', monospace;line-height:30px;color:#2f3747;letter-spacing:-0.907px;-webkit-text-stroke:0.6px #2f3747;">otelcol</span>
<span class="t" style="left:2376.70px;top:822.66px;font:normal 23px 'DejaVu Sans Mono', 'Liberation Mono', monospace;line-height:30px;color:#2f3747;letter-spacing:-0.907px;-webkit-text-stroke:0.6px #2f3747;">quickstart-cluster</span>
<span class="t" style="left:2743.50px;top:822.66px;font:normal 23px 'DejaVu Sans Mono', 'Liberation Mono', monospace;line-height:30px;color:#2f3747;letter-spacing:-0.907px;-webkit-text-stroke:0.6px #2f3747;">opentelemetry-collector</span>
<span class="t" style="left:3111.20px;top:822.66px;font:normal 23px 'DejaVu Sans Mono', 'Liberation Mono', monospace;line-height:30px;color:#2f3747;letter-spacing:-0.907px;-webkit-text-stroke:0.6px #2f3747;">default</span>
<span class="t" style="left:699.30px;top:865.90px;font:normal 23px 'DejaVu Sans Mono', 'Liberation Mono', monospace;line-height:30px;color:#2f3747;letter-spacing:-0.907px;-webkit-text-stroke:0.6px #2f3747;">Dec 11, 13:40:42.231</span>
<span class="t" style="left:1016.50px;top:865.90px;font:normal 23px 'DejaVu Sans Mono', 'Liberation Mono', monospace;line-height:30px;color:#2f3747;letter-spacing:-0.907px;-webkit-text-stroke:0.6px #2f3747;">{"log":"2023-12-11T21:40:42.231Z\u0009info\u0009TracesExporter\u0009{\"kind\": \…</span>
<span class="t" style="left:2095.50px;top:865.90px;font:normal 23px 'DejaVu Sans Mono', 'Liberation Mono', monospace;line-height:30px;color:#2f3747;letter-spacing:-0.907px;-webkit-text-stroke:0.6px #2f3747;">otelcol</span>
<span class="t" style="left:2376.70px;top:865.90px;font:normal 23px 'DejaVu Sans Mono', 'Liberation Mono', monospace;line-height:30px;color:#2f3747;letter-spacing:-0.907px;-webkit-text-stroke:0.6px #2f3747;">quickstart-cluster</span>
<span class="t" style="left:2743.50px;top:865.90px;font:normal 23px 'DejaVu Sans Mono', 'Liberation Mono', monospace;line-height:30px;color:#2f3747;letter-spacing:-0.907px;-webkit-text-stroke:0.6px #2f3747;">opentelemetry-collector</span>
<span class="t" style="left:3111.20px;top:865.90px;font:normal 23px 'DejaVu Sans Mono', 'Liberation Mono', monospace;line-height:30px;color:#2f3747;letter-spacing:-0.907px;-webkit-text-stroke:0.6px #2f3747;">default</span>
<span class="t" style="left:699.30px;top:909.14px;font:normal 23px 'DejaVu Sans Mono', 'Liberation Mono', monospace;line-height:30px;color:#2f3747;letter-spacing:-0.907px;-webkit-text-stroke:0.6px #2f3747;">Dec 11, 13:40:41.629</span>
<span class="t" style="left:1016.50px;top:909.14px;font:normal 23px 'DejaVu Sans Mono', 'Liberation Mono', monospace;line-height:30px;color:#2f3747;letter-spacing:-0.907px;-webkit-text-stroke:0.6px #2f3747;">{"log":"2023-12-11T21:40:41.628Z\u0009info\u0009TracesExporter\u0009{\"kind\": \…</span>
<span class="t" style="left:2095.50px;top:909.14px;font:normal 23px 'DejaVu Sans Mono', 'Liberation Mono', monospace;line-height:30px;color:#2f3747;letter-spacing:-0.907px;-webkit-text-stroke:0.6px #2f3747;">otelcol</span>
<span class="t" style="left:2376.70px;top:909.14px;font:normal 23px 'DejaVu Sans Mono', 'Liberation Mono', monospace;line-height:30px;color:#2f3747;letter-spacing:-0.907px;-webkit-text-stroke:0.6px #2f3747;">quickstart-cluster</span>
<span class="t" style="left:2743.50px;top:909.14px;font:normal 23px 'DejaVu Sans Mono', 'Liberation Mono', monospace;line-height:30px;color:#2f3747;letter-spacing:-0.907px;-webkit-text-stroke:0.6px #2f3747;">opentelemetry-collector</span>
<span class="t" style="left:3111.20px;top:909.14px;font:normal 23px 'DejaVu Sans Mono', 'Liberation Mono', monospace;line-height:30px;color:#2f3747;letter-spacing:-0.907px;-webkit-text-stroke:0.6px #2f3747;">default</span>
<span class="t" style="left:699.30px;top:952.38px;font:normal 23px 'DejaVu Sans Mono', 'Liberation Mono', monospace;line-height:30px;color:#2f3747;letter-spacing:-0.907px;-webkit-text-stroke:0.6px #2f3747;">Dec 11, 13:40:41.026</span>
<span class="t" style="left:1016.50px;top:952.38px;font:normal 23px 'DejaVu Sans Mono', 'Liberation Mono', monospace;line-height:30px;color:#2f3747;letter-spacing:-0.907px;-webkit-text-stroke:0.6px #2f3747;">{"log":"2023-12-11T21:40:41.026Z\u0009info\u0009MetricsExporter\u0009{\"kind\": …</span>
<span class="t" style="left:2095.50px;top:952.38px;font:normal 23px 'DejaVu Sans Mono', 'Liberation Mono', monospace;line-height:30px;color:#2f3747;letter-spacing:-0.907px;-webkit-text-stroke:0.6px #2f3747;">otelcol</span>
<span class="t" style="left:2376.70px;top:952.38px;font:normal 23px 'DejaVu Sans Mono', 'Liberation Mono', monospace;line-height:30px;color:#2f3747;letter-spacing:-0.907px;-webkit-text-stroke:0.6px #2f3747;">quickstart-cluster</span>
<span class="t" style="left:2743.50px;top:952.38px;font:normal 23px 'DejaVu Sans Mono', 'Liberation Mono', monospace;line-height:30px;color:#2f3747;letter-spacing:-0.907px;-webkit-text-stroke:0.6px #2f3747;">opentelemetry-collector</span>
<span class="t" style="left:3111.20px;top:952.38px;font:normal 23px 'DejaVu Sans Mono', 'Liberation Mono', monospace;line-height:30px;color:#2f3747;letter-spacing:-0.907px;-webkit-text-stroke:0.6px #2f3747;">default</span>
<span class="t" style="left:699.30px;top:995.62px;font:normal 23px 'DejaVu Sans Mono', 'Liberation Mono', monospace;line-height:30px;color:#2f3747;letter-spacing:-0.907px;-webkit-text-stroke:0.6px #2f3747;">Dec 11, 13:40:40.625</span>
<span class="t" style="left:1016.50px;top:995.62px;font:normal 23px 'DejaVu Sans Mono', 'Liberation Mono', monospace;line-height:30px;color:#2f3747;letter-spacing:-0.907px;-webkit-text-stroke:0.6px #2f3747;">{"log":"2023-12-11T21:40:40.625Z\u0009info\u0009TracesExporter\u0009{\"kind\": \…</span>
<span class="t" style="left:2095.50px;top:995.62px;font:normal 23px 'DejaVu Sans Mono', 'Liberation Mono', monospace;line-height:30px;color:#2f3747;letter-spacing:-0.907px;-webkit-text-stroke:0.6px #2f3747;">otelcol</span>
<span class="t" style="left:2376.70px;top:995.62px;font:normal 23px 'DejaVu Sans Mono', 'Liberation Mono', monospace;line-height:30px;color:#2f3747;letter-spacing:-0.907px;-webkit-text-stroke:0.6px #2f3747;">quickstart-cluster</span>
<span class="t" style="left:2743.50px;top:995.62px;font:normal 23px 'DejaVu Sans Mono', 'Liberation Mono', monospace;line-height:30px;color:#2f3747;letter-spacing:-0.907px;-webkit-text-stroke:0.6px #2f3747;">opentelemetry-collector</span>
<span class="t" style="left:3111.20px;top:995.62px;font:normal 23px 'DejaVu Sans Mono', 'Liberation Mono', monospace;line-height:30px;color:#2f3747;letter-spacing:-0.907px;-webkit-text-stroke:0.6px #2f3747;">default</span>
<span class="t" style="left:699.30px;top:1038.86px;font:normal 23px 'DejaVu Sans Mono', 'Liberation Mono', monospace;line-height:30px;color:#2f3747;letter-spacing:-0.907px;-webkit-text-stroke:0.6px #2f3747;">Dec 11, 13:40:39.221</span>
<span class="t" style="left:1016.50px;top:1038.86px;font:normal 23px 'DejaVu Sans Mono', 'Liberation Mono', monospace;line-height:30px;color:#2f3747;letter-spacing:-0.907px;-webkit-text-stroke:0.6px #2f3747;">{"log":"2023-12-11T21:40:39.221Z\u0009info\u0009TracesExporter\u0009{\"kind\": \…</span>
<span class="t" style="left:2095.50px;top:1038.86px;font:normal 23px 'DejaVu Sans Mono', 'Liberation Mono', monospace;line-height:30px;color:#2f3747;letter-spacing:-0.907px;-webkit-text-stroke:0.6px #2f3747;">otelcol</span>
<span class="t" style="left:2376.70px;top:1038.86px;font:normal 23px 'DejaVu Sans Mono', 'Liberation Mono', monospace;line-height:30px;color:#2f3747;letter-spacing:-0.907px;-webkit-text-stroke:0.6px #2f3747;">quickstart-cluster</span>
<span class="t" style="left:2743.50px;top:1038.86px;font:normal 23px 'DejaVu Sans Mono', 'Liberation Mono', monospace;line-height:30px;color:#2f3747;letter-spacing:-0.907px;-webkit-text-stroke:0.6px #2f3747;">opentelemetry-collector</span>
<span class="t" style="left:3111.20px;top:1038.86px;font:normal 23px 'DejaVu Sans Mono', 'Liberation Mono', monospace;line-height:30px;color:#2f3747;letter-spacing:-0.907px;-webkit-text-stroke:0.6px #2f3747;">default</span>
<span class="t" style="left:699.30px;top:1082.10px;font:normal 23px 'DejaVu Sans Mono', 'Liberation Mono', monospace;line-height:30px;color:#2f3747;letter-spacing:-0.907px;-webkit-text-stroke:0.6px #2f3747;">Dec 11, 13:40:38.000</span>
<span class="t" style="left:1016.50px;top:1082.10px;font:normal 23px 'DejaVu Sans Mono', 'Liberation Mono', monospace;line-height:30px;color:#2f3747;letter-spacing:-0.907px;-webkit-text-stroke:0.6px #2f3747;">{"log":"21:40:37.999 request_id=F57SbGxboTsIj9UACVJB [info] Sent 200 in 3ms\n","…</span>
<span class="t" style="left:2095.50px;top:1082.10px;font:normal 23px 'DejaVu Sans Mono', 'Liberation Mono', monospace;line-height:30px;color:#2f3747;letter-spacing:-0.907px;-webkit-text-stroke:0.6px #2f3747;">my-otel-demo-featu…</span>
<span class="t" style="left:2376.70px;top:1082.10px;font:normal 23px 'DejaVu Sans Mono', 'Liberation Mono', monospace;line-height:30px;color:#2f3747;letter-spacing:-0.907px;-webkit-text-stroke:0.6px #2f3747;">quickstart-cluster</span>
<span class="t" style="left:2743.50px;top:1082.10px;font:normal 23px 'DejaVu Sans Mono', 'Liberation Mono', monospace;line-height:30px;color:#2f3747;letter-spacing:-0.907px;-webkit-text-stroke:0.6px #2f3747;">featureflagservice</span>
<span class="t" style="left:3111.20px;top:1082.10px;font:normal 23px 'DejaVu Sans Mono', 'Liberation Mono', monospace;line-height:30px;color:#2f3747;letter-spacing:-0.907px;-webkit-text-stroke:0.6px #2f3747;">default</span>
<span class="t" style="left:699.30px;top:1125.34px;font:normal 23px 'DejaVu Sans Mono', 'Liberation Mono', monospace;line-height:30px;color:#2f3747;letter-spacing:-0.907px;-webkit-text-stroke:0.6px #2f3747;">Dec 11, 13:40:37.998</span>
<span class="t" style="left:1016.50px;top:1125.34px;font:normal 23px 'DejaVu Sans Mono', 'Liberation Mono', monospace;line-height:30px;color:#2f3747;letter-spacing:-0.907px;-webkit-text-stroke:0.6px #2f3747;">{"log":"21:40:37.996 request_id=F57SbGxboTsIj9UACVJB [info] GET /featureflags/\n…</span>
<span class="t" style="left:2095.50px;top:1125.34px;font:normal 23px 'DejaVu Sans Mono', 'Liberation Mono', monospace;line-height:30px;color:#2f3747;letter-spacing:-0.907px;-webkit-text-stroke:0.6px #2f3747;">my-otel-demo-featu…</span>
<span class="t" style="left:2376.70px;top:1125.34px;font:normal 23px 'DejaVu Sans Mono', 'Liberation Mono', monospace;line-height:30px;color:#2f3747;letter-spacing:-0.907px;-webkit-text-stroke:0.6px #2f3747;">quickstart-cluster</span>
<span class="t" style="left:2743.50px;top:1125.34px;font:normal 23px 'DejaVu Sans Mono', 'Liberation Mono', monospace;line-height:30px;color:#2f3747;letter-spacing:-0.907px;-webkit-text-stroke:0.6px #2f3747;">featureflagservice</span>
<span class="t" style="left:3111.20px;top:1125.34px;font:normal 23px 'DejaVu Sans Mono', 'Liberation Mono', monospace;line-height:30px;color:#2f3747;letter-spacing:-0.907px;-webkit-text-stroke:0.6px #2f3747;">default</span>
<span class="t" style="left:699.30px;top:1168.58px;font:normal 23px 'DejaVu Sans Mono', 'Liberation Mono', monospace;line-height:30px;color:#2f3747;letter-spacing:-0.907px;-webkit-text-stroke:0.6px #2f3747;">Dec 11, 13:40:37.815</span>
<span class="t" style="left:1016.50px;top:1168.58px;font:normal 23px 'DejaVu Sans Mono', 'Liberation Mono', monospace;line-height:30px;color:#2f3747;letter-spacing:-0.907px;-webkit-text-stroke:0.6px #2f3747;">{"log":"2023-12-11T21:40:37.815Z\u0009info\u0009MetricsExporter\u0009{\"kind\": …</span>
<span class="t" style="left:2095.50px;top:1168.58px;font:normal 23px 'DejaVu Sans Mono', 'Liberation Mono', monospace;line-height:30px;color:#2f3747;letter-spacing:-0.907px;-webkit-text-stroke:0.6px #2f3747;">otelcol</span>
<span class="t" style="left:2376.70px;top:1168.58px;font:normal 23px 'DejaVu Sans Mono', 'Liberation Mono', monospace;line-height:30px;color:#2f3747;letter-spacing:-0.907px;-webkit-text-stroke:0.6px #2f3747;">quickstart-cluster</span>
<span class="t" style="left:2743.50px;top:1168.58px;font:normal 23px 'DejaVu Sans Mono', 'Liberation Mono', monospace;line-height:30px;color:#2f3747;letter-spacing:-0.907px;-webkit-text-stroke:0.6px #2f3747;">opentelemetry-collector</span>
<span class="t" style="left:3111.20px;top:1168.58px;font:normal 23px 'DejaVu Sans Mono', 'Liberation Mono', monospace;line-height:30px;color:#2f3747;letter-spacing:-0.907px;-webkit-text-stroke:0.6px #2f3747;">default</span>
<span class="t" style="left:699.30px;top:1211.82px;font:normal 23px 'DejaVu Sans Mono', 'Liberation Mono', monospace;line-height:30px;color:#2f3747;letter-spacing:-0.907px;-webkit-text-stroke:0.6px #2f3747;">Dec 11, 13:40:37.214</span>
<span class="t" style="left:1016.50px;top:1211.82px;font:normal 23px 'DejaVu Sans Mono', 'Liberation Mono', monospace;line-height:30px;color:#2f3747;letter-spacing:-0.907px;-webkit-text-stroke:0.6px #2f3747;">{"log":"2023-12-11T21:40:37.214Z\u0009info\u0009TracesExporter\u0009{\"kind\": \…</span>
<span class="t" style="left:2095.50px;top:1211.82px;font:normal 23px 'DejaVu Sans Mono', 'Liberation Mono', monospace;line-height:30px;color:#2f3747;letter-spacing:-0.907px;-webkit-text-stroke:0.6px #2f3747;">otelcol</span>
<span class="t" style="left:2376.70px;top:1211.82px;font:normal 23px 'DejaVu Sans Mono', 'Liberation Mono', monospace;line-height:30px;color:#2f3747;letter-spacing:-0.907px;-webkit-text-stroke:0.6px #2f3747;">quickstart-cluster</span>
<span class="t" style="left:2743.50px;top:1211.82px;font:normal 23px 'DejaVu Sans Mono', 'Liberation Mono', monospace;line-height:30px;color:#2f3747;letter-spacing:-0.907px;-webkit-text-stroke:0.6px #2f3747;">opentelemetry-collector</span>
<span class="t" style="left:3111.20px;top:1211.82px;font:normal 23px 'DejaVu Sans Mono', 'Liberation Mono', monospace;line-height:30px;color:#2f3747;letter-spacing:-0.907px;-webkit-text-stroke:0.6px #2f3747;">default</span>
<span class="t" style="left:699.30px;top:1255.06px;font:normal 23px 'DejaVu Sans Mono', 'Liberation Mono', monospace;line-height:30px;color:#2f3747;letter-spacing:-0.907px;-webkit-text-stroke:0.6px #2f3747;">Dec 11, 13:40:36.010</span>
<span class="t" style="left:1016.50px;top:1255.06px;font:normal 23px 'DejaVu Sans Mono', 'Liberation Mono', monospace;line-height:30px;color:#2f3747;letter-spacing:-0.907px;-webkit-text-stroke:0.6px #2f3747;">{"log":"2023-12-11T21:40:36.010Z\u0009info\u0009MetricsExporter\u0009{\"kind\": …</span>
<span class="t" style="left:2095.50px;top:1255.06px;font:normal 23px 'DejaVu Sans Mono', 'Liberation Mono', monospace;line-height:30px;color:#2f3747;letter-spacing:-0.907px;-webkit-text-stroke:0.6px #2f3747;">otelcol</span>
<span class="t" style="left:2376.70px;top:1255.06px;font:normal 23px 'DejaVu Sans Mono', 'Liberation Mono', monospace;line-height:30px;color:#2f3747;letter-spacing:-0.907px;-webkit-text-stroke:0.6px #2f3747;">quickstart-cluster</span>
<span class="t" style="left:2743.50px;top:1255.06px;font:normal 23px 'DejaVu Sans Mono', 'Liberation Mono', monospace;line-height:30px;color:#2f3747;letter-spacing:-0.907px;-webkit-text-stroke:0.6px #2f3747;">opentelemetry-collector</span>
<span class="t" style="left:3111.20px;top:1255.06px;font:normal 23px 'DejaVu Sans Mono', 'Liberation Mono', monospace;line-height:30px;color:#2f3747;letter-spacing:-0.907px;-webkit-text-stroke:0.6px #2f3747;">default</span>
<span class="t" style="left:699.30px;top:1298.30px;font:normal 23px 'DejaVu Sans Mono', 'Liberation Mono', monospace;line-height:30px;color:#2f3747;letter-spacing:-0.907px;-webkit-text-stroke:0.6px #2f3747;">Dec 11, 13:40:35.609</span>
<span class="t" style="left:1016.50px;top:1298.30px;font:normal 23px 'DejaVu Sans Mono', 'Liberation Mono', monospace;line-height:30px;color:#2f3747;letter-spacing:-0.907px;-webkit-text-stroke:0.6px #2f3747;">{"log":"2023-12-11T21:40:35.609Z\u0009info\u0009TracesExporter\u0009{\"kind\": \…</span>
<span class="t" style="left:2095.50px;top:1298.30px;font:normal 23px 'DejaVu Sans Mono', 'Liberation Mono', monospace;line-height:30px;color:#2f3747;letter-spacing:-0.907px;-webkit-text-stroke:0.6px #2f3747;">otelcol</span>
<span class="t" style="left:2376.70px;top:1298.30px;font:normal 23px 'DejaVu Sans Mono', 'Liberation Mono', monospace;line-height:30px;color:#2f3747;letter-spacing:-0.907px;-webkit-text-stroke:0.6px #2f3747;">quickstart-cluster</span>
<span class="t" style="left:2743.50px;top:1298.30px;font:normal 23px 'DejaVu Sans Mono', 'Liberation Mono', monospace;line-height:30px;color:#2f3747;letter-spacing:-0.907px;-webkit-text-stroke:0.6px #2f3747;">opentelemetry-collector</span>
<span class="t" style="left:3111.20px;top:1298.30px;font:normal 23px 'DejaVu Sans Mono', 'Liberation Mono', monospace;line-height:30px;color:#2f3747;letter-spacing:-0.907px;-webkit-text-stroke:0.6px #2f3747;">default</span>
<div class="b" style="left:3172px;top:470px;width:139px;height:859px;background:linear-gradient(90deg,rgba(255,255,255,0),#fff 94%);"></div>
<div class="b" style="left:3311px;top:380px;width:51px;height:949px;background:#fff;"></div>
</section>
</main>
</div></body></html>
